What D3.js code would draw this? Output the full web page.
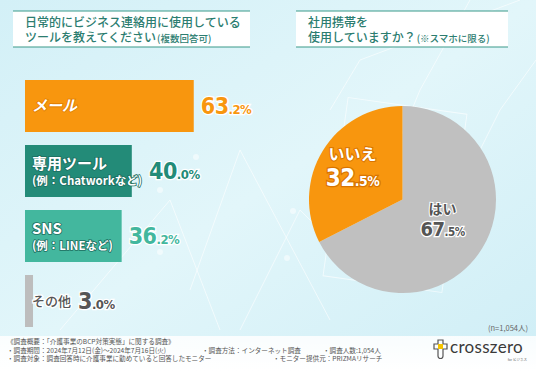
<!DOCTYPE html>
<html>
<head>
<meta charset="utf-8">
<script src="https://cdn.jsdelivr.net/npm/d3@7"></script>
<style>
  body { margin: 0; background: #fff; }
  svg { display: block; font-family: "Noto Sans CJK JP", "Noto Sans", sans-serif; }
  .num { font-family: "DejaVu Sans Condensed", "DejaVu Sans", sans-serif; font-stretch: condensed; font-weight: 700; }
</style>
</head>
<body>
<svg id="chart" width="536" height="371"></svg>
<script>
// bar chart data: tools used for business contact
var toolCats = ["メール", "専用ツール", "SNS", "その他"];
var toolSubs = ["", "(例：Chatworkなど)", "(例：LINEなど)", ""];
var toolValues = [63.2, 40.0, 36.2, 3.0];
var toolColors = ["#f8960e", "#238b78", "#43b79e", "#bdbdbd"];
var toolTextColors = ["#f8960e", "#238b78", "#43b79e", "#555555"];

// pie data: company phone
var phoneCats = ["はい", "いいえ"];
var phoneValues = [67.5, 32.5];
var phoneColors = ["#c0c0c0", "#f8960e"];

var footLines = [
  ["《調査概要：「介護事業のBCP対策実態」に関する調査》"],
  ["・調査期間：2024年7月12日(金)～2024年7月16日(火)", "・調査方法：インターネット調査", "・調査人数:1,054人"],
  ["・調査対象：調査回答時に介護事業に勤めていると回答したモニター", "", "・モニター提供元：PRIZMAリサーチ"]
];

var svg = d3.select("#chart");
var W = 536, H = 371;

// background
var defs = svg.append("defs");
var bg = defs.append("linearGradient").attr("id", "bg").attr("x1", 0).attr("y1", 0).attr("x2", 1).attr("y2", 1);
bg.append("stop").attr("offset", "0%").attr("stop-color", "#d3f0f7");
bg.append("stop").attr("offset", "50%").attr("stop-color", "#e2f6fa");
bg.append("stop").attr("offset", "100%").attr("stop-color", "#cfeef6");
svg.append("rect").attr("width", W).attr("height", H).attr("fill", "url(#bg)");

// faint decoration lines
var deco = svg.append("g").attr("stroke", "#ffffff").attr("stroke-opacity", 0.6).attr("fill", "none").attr("stroke-width", 1);
deco.append("polyline").attr("points", "60,330 170,200 220,330");
deco.append("polyline").attr("points", "190,290 240,150 330,320");
deco.append("polyline").attr("points", "240,330 300,210 350,260 420,90 470,0");
deco.append("polyline").attr("points", "330,110 360,60 520,0");
deco.append("polyline").attr("points", "420,270 500,110 536,60");
deco.append("rect").attr("x", 335).attr("y", 105).attr("width", 120).attr("height", 180).attr("transform", "rotate(8 395 195)");
var glow = svg.append("g").attr("fill", "#ffffff").attr("fill-opacity", 0.5);
[[196, 157], [160, 190], [293, 211], [287, 258], [160, 252]].forEach(function(p) {
  glow.append("circle").attr("cx", p[0]).attr("cy", p[1]).attr("r", 3);
});

// title boxes
function titleBox(x, w, lines) {
  var g = svg.append("g");
  g.append("rect").attr("x", x).attr("y", 11).attr("width", w).attr("height", 36).attr("fill", "#ffffff");
  g.append("line").attr("x1", x).attr("x2", x + w).attr("y1", 11).attr("y2", 11).attr("stroke", "#3a9a8a").attr("stroke-width", 1.2);
  g.append("line").attr("x1", x).attr("x2", x + w).attr("y1", 47).attr("y2", 47).attr("stroke", "#3a9a8a").attr("stroke-width", 1.2);
  lines.forEach(function(l, i) {
    var t = g.append("text").attr("x", x + 12).attr("y", 26.5 + i * 15).attr("fill", "#2c7d70")
      .attr("font-size", 12).attr("font-weight", 500).text(l[0]);
    if (l[1]) {
      var w0 = t.node().getComputedTextLength();
      g.append("text").attr("x", x + 13 + w0).attr("y", 26.5 + i * 15).attr("fill", "#2c7d70")
        .attr("font-size", 9.5).attr("font-weight", 500).text(l[1]);
    }
  });
}
titleBox(13, 237, [["日常的にビジネス連絡用に使用している"], ["ツールを教えてください", "(複数回答可)"]]);
titleBox(296, 212, [["社用携帯を"], ["使用していますか？", "(※スマホに限る)"]]);

// bars
var x = d3.scaleLinear().domain([0, 100]).range([0, 267]);
var y = d3.scaleBand().domain(toolCats).range([80, 327]).paddingInner(0.2).paddingOuter(0);
var bars = svg.append("g");
bars.selectAll("rect").data(toolValues).join("rect")
  .attr("x", 25)
  .attr("y", function(d, i) { return y(toolCats[i]); })
  .attr("width", function(d) { return x(d); })
  .attr("height", y.bandwidth())
  .attr("fill", function(d, i) { return toolColors[i]; });

toolValues.forEach(function(v, i) {
  var cy = y(toolCats[i]) + y.bandwidth() / 2;
  var g = svg.append("g");
  var white = i < 3;
  var textEnd = 25 + x(v);
  var labels = toolSubs[i] ? [[toolCats[i], cy - 2, 15], [toolSubs[i], cy + 14, 11.5]] : [[toolCats[i], cy + 5, white ? 15 : 13]];
  labels.forEach(function(l) {
    var t = g.append("text").attr("x", 32).attr("y", l[1]).attr("font-size", l[2]).attr("font-weight", white ? 700 : 500)
      .attr("fill", white ? "#ffffff" : "#555555")
      .attr("stroke", white ? (i === 0 ? "#e07d00" : "#1d6e60") : "#ffffff")
      .attr("stroke-width", white ? 1.6 : 2.5).attr("paint-order", "stroke")
      .attr("font-style", i === 0 ? "italic" : null)
      .text(l[0]);
    var bb = t.node().getBBox();
    textEnd = Math.max(textEnd, bb.x + bb.width);
  });
  var s = v.toFixed(1).split(".");
  var lab = g.append("text").attr("class", "num").attr("x", textEnd + 7).attr("y", cy + 8)
    .attr("fill", toolTextColors[i]).attr("stroke", "#ffffff").attr("stroke-width", 2.5).attr("paint-order", "stroke")
    .attr("letter-spacing", -0.5);
  lab.append("tspan").attr("font-size", 23).text(s[0]);
  lab.append("tspan").attr("font-size", 13).text("." + s[1] + "%");
});

// pie
var cx = 402.5, cyP = 199.5, R = 93.5;
var pie = d3.pie().sort(null)(phoneValues);
var arc = d3.arc().innerRadius(0).outerRadius(R);
var pg = svg.append("g").attr("transform", "translate(" + cx + "," + cyP + ")");
pg.selectAll("path").data(pie).join("path").attr("d", arc).attr("fill", function(d, i) { return phoneColors[i]; });

var pieLab = [
  { dx: 40, dy: 14, fill: "#555555", stroke: "#ffffff", cat: 14, num: 20 },
  { dx: -50, dy: -40, fill: "#ffffff", stroke: "#d97400", cat: 16, num: 24 }
];
pie.forEach(function(d, i) {
  var p = pieLab[i];
  pg.append("text").attr("x", p.dx).attr("y", p.dy).attr("text-anchor", "middle")
    .attr("font-size", p.cat).attr("font-weight", 700).attr("fill", p.fill)
    .attr("stroke", p.stroke).attr("stroke-width", 2).attr("paint-order", "stroke").text(phoneCats[i]);
  var s = phoneValues[i].toFixed(1).split(".");
  var t = pg.append("text").attr("class", "num").attr("x", p.dx).attr("y", p.dy + p.num + 2).attr("text-anchor", "middle")
    .attr("fill", p.fill).attr("stroke", p.stroke).attr("stroke-width", 2.5).attr("paint-order", "stroke")
    .attr("letter-spacing", -0.5);
  t.append("tspan").attr("font-size", p.num).text(s[0]);
  t.append("tspan").attr("font-size", p.num * 0.58).text("." + s[1] + "%");
});

// n label
svg.append("text").attr("x", 528).attr("y", 331).attr("text-anchor", "end").attr("font-size", 7.5)
  .attr("fill", "#666").text("(n=1,054人)");

// footer band
var fg = defs.append("linearGradient").attr("id", "fg").attr("x1", 0).attr("y1", 0).attr("x2", 0).attr("y2", 1);
fg.append("stop").attr("offset", "0%").attr("stop-color", "#ffffff").attr("stop-opacity", 0.85);
fg.append("stop").attr("offset", "100%").attr("stop-color", "#ffffff").attr("stop-opacity", 1);
svg.append("rect").attr("x", 0).attr("y", 336).attr("width", W).attr("height", 35).attr("fill", "url(#fg)");

var colX = [7, 202, 323];
footLines.forEach(function(row, r) {
  row.forEach(function(s, c) {
    if (!s) return;
    var xx = colX[c];
    if (r === 2 && c === 2) xx = 273;
    svg.append("text").attr("x", xx).attr("y", 344 + r * 8.5).attr("font-size", 6.6).attr("fill", "#555").text(s);
  });
});

// logo
var lg = svg.append("g").attr("transform", "translate(433,348)");
lg.append("path").attr("d", "M5,-8 h5 v4 h4 v5 h-4 v7 a2.5,2.5 0 0 1 -5,0 v-7 h-4 v-5 h4 z")
  .attr("fill", "none").attr("stroke", "#555").attr("stroke-width", 1.2);
lg.append("rect").attr("x", 5).attr("y", -4).attr("width", 5).attr("height", 5).attr("fill", "#f5c400");
lg.append("text").attr("x", 17).attr("y", 5).attr("font-family", "Lato, 'Noto Sans', sans-serif").attr("font-size", 17)
  .attr("fill", "#3a3a3a").attr("letter-spacing", 0.3).text("crosszero");
lg.append("text").attr("x", 94).attr("y", 13).attr("text-anchor", "end").attr("font-size", 3.5).attr("fill", "#666").text("for ビジネス");
</script>
</body>
</html>
